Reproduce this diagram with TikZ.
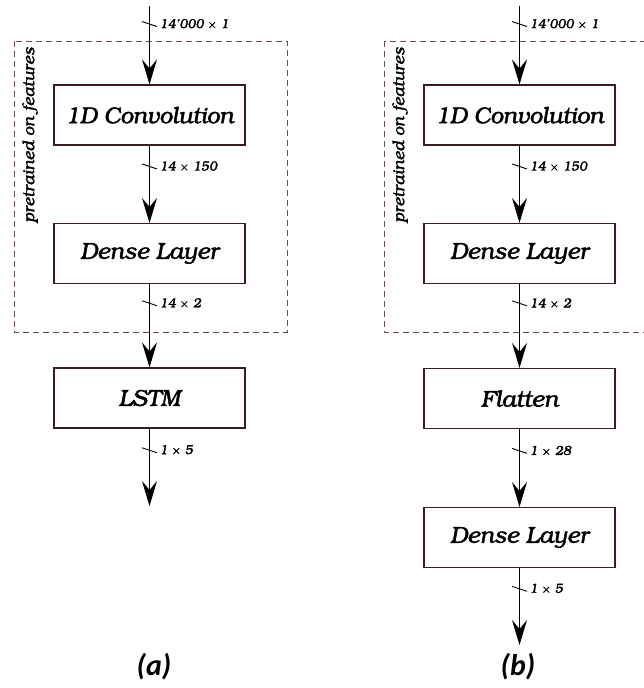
\documentclass[tikz,border=0pt]{standalone}
\usepackage[T1]{fontenc}
\usepackage{fontspec}
\newfontfamily\capfont{Carlito}
\usetikzlibrary{arrows.meta,calc}
% Bookman italic for all labels in the diagram
\newcommand\bkit{\fontencoding{T1}\fontfamily{pbk}\fontseries{m}\fontshape{it}\selectfont}
% set text with a thin outline stroke to give it a medium weight
\newcommand\medweight[2]{\special{pdf:literal direct 2 Tr #1 w}#2\special{pdf:literal direct 0 Tr}}
\definecolor{boxline}{HTML}{3B1C1C}
\definecolor{dashline}{HTML}{6B4F4F}
\tikzset{
  layer/.style={draw=boxline, line width=1.1pt, minimum width=191pt, minimum height=60pt,
                inner sep=0pt, font=\bkit\fontsize{23}{26}\selectfont},
  flow/.style={line width=1.1pt, -{Stealth[length=25pt, width=15pt, inset=9pt]}},
  tickmark/.style={line width=0.9pt},
  dimlabel/.style={anchor=west, inner sep=0pt, font=\bkit\fontsize{13}{15}\selectfont},
  groupbox/.style={draw=dashline, line width=0.8pt, dash pattern=on 6pt off 4pt},
  grouplabel/.style={rotate=90, anchor=east, inner sep=0pt, font=\bkit\fontsize{16.5}{18}\selectfont},
  caption/.style={font=\capfont\bfseries\itshape\fontsize{30}{34}\selectfont},
}
% slanted tick across a connector, with its size label to the right
\newcommand\dimmark[2]{%
  \draw[tickmark] ($(#1)+(-7.5,-2.5)$) -- ($(#1)+(7.5,2.5)$);
  \node[dimlabel] at ($(#1)+(10,0)$) {\medweight{0.3}{#2}};}
\begin{document}
\begin{tikzpicture}[x=1pt, y=-1pt]
\useasboundingbox (0,0) rectangle (644,688);
\clip (0,0) rectangle (644,688);

% ---------------- (a) ----------------
\draw[groupbox] (14,41) rectangle (287,332);
\node[grouplabel] (ga) at (30,47) {\medweight{0.3}{pretrained on features}};
\coordinate (ina) at (149.5,6);
\node[layer] (conva) at (149.5,115) {\medweight{0.45}{1D Convolution}};
\node[layer] (densea) at (149.5,253.5) {\medweight{0.45}{Dense Layer}};
\node[layer] (lstm) at (149.5,398) {\medweight{0.45}{LSTM}};
\coordinate (outa) at (149.5,506);

\draw[flow] (ina) -- coordinate[pos=0.23] (ta1) (conva);
\draw[flow] (conva) -- coordinate[pos=0.27] (ta2) (densea);
\draw[flow] (densea) -- coordinate[pos=0.23] (ta3) (lstm);
\draw[flow] (lstm) -- coordinate[pos=0.28] (ta4) (outa);
\dimmark{ta1}{14'000 $\times$ 1}
\dimmark{ta2}{14 $\times$ 150}
\dimmark{ta3}{14 $\times$ 2}
\dimmark{ta4}{1 $\times$ 5}
\node[caption] (capa) at (154,667) {(a)};

% ---------------- (b) ----------------
\draw[groupbox] (384,41) rectangle (664,332);
\node[grouplabel] (gb) at (400,47) {\medweight{0.3}{pretrained on features}};
\coordinate (inb) at (519.5,6);
\node[layer] (convb) at (519.5,115) {\medweight{0.45}{1D Convolution}};
\node[layer] (denseb) at (519.5,253.5) {\medweight{0.45}{Dense Layer}};
\node[layer] (flat) at (519.5,398.5) {\medweight{0.45}{Flatten}};
\node[layer] (densec) at (519.5,537.5) {\medweight{0.45}{Dense Layer}};
\coordinate (outb) at (519.5,645);

\draw[flow] (inb) -- coordinate[pos=0.23] (tb1) (convb);
\draw[flow] (convb) -- coordinate[pos=0.27] (tb2) (denseb);
\draw[flow] (denseb) -- coordinate[pos=0.23] (tb3) (flat);
\draw[flow] (flat) -- coordinate[pos=0.28] (tb4) (densec);
\draw[flow] (densec) -- coordinate[pos=0.27] (tb5) (outb);
\dimmark{tb1}{14'000 $\times$ 1}
\dimmark{tb2}{14 $\times$ 150}
\dimmark{tb3}{14 $\times$ 2}
\dimmark{tb4}{1 $\times$ 28}
\dimmark{tb5}{1 $\times$ 5}
\node[caption] (capb) at (518,667) {(b)};
\end{tikzpicture}
\end{document}
